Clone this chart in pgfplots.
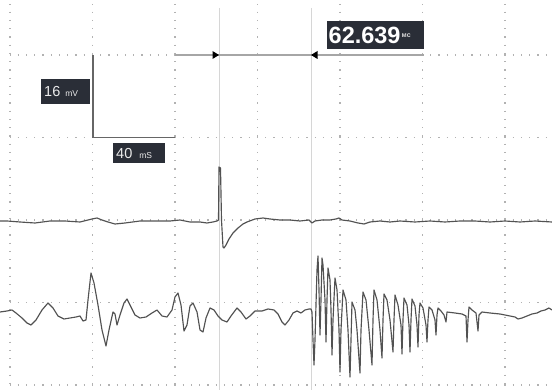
\documentclass[border=0pt]{standalone}
\usepackage{fontspec}
\setmainfont{Liberation Sans}
\usepackage{pgfplots}
\pgfplotsset{compat=1.18}
\definecolor{boxbg}{HTML}{2A2E37}
\definecolor{trace}{HTML}{525252}
\definecolor{gridc}{HTML}{B2B2B2}
\definecolor{cursor}{HTML}{D6D6D6}

\begin{document}
\begin{tikzpicture}
\begin{axis}[
  width=552pt, height=390pt, scale only axis,
  xmin=0, xmax=552, ymin=0, ymax=390,
  y dir=reverse,
  hide axis,
]
\path (rel axis cs:0,0) rectangle (rel axis cs:1,1);

% dotted graticule: 10 small dots per division
\pgfplotsinvokeforeach{10,92.5,175,257.5,340,422.5,505}{
  \draw[gridc, line width=1.15pt, dash pattern=on 1.15pt off 7.1pt, dash phase=0.575pt]
    (axis cs:#1,4) -- (axis cs:#1,390);
}
\pgfplotsinvokeforeach{55,137.5,220,302.5,385}{
  \draw[gridc, line width=1.15pt, dash pattern=on 1.15pt off 7.1pt, dash phase=0.575pt]
    (axis cs:10,#1) -- (axis cs:552,#1);
}

% time cursors
\draw[cursor, line width=0.6pt] (axis cs:219,8) -- (axis cs:219,390);
\draw[cursor, line width=0.6pt] (axis cs:311,8) -- (axis cs:311,390);

% interval readout
\draw[gray!70, line width=1.4pt] (axis cs:175,55) -- (axis cs:424,55);
\fill[black] (axis cs:219,55) -- (axis cs:212.5,51) -- (axis cs:212.5,59) -- cycle;
\fill[black] (axis cs:311,55) -- (axis cs:317.5,51) -- (axis cs:317.5,59) -- cycle;
\fill[boxbg] (axis cs:327,21.5) rectangle (axis cs:424,49.5);
\node[anchor=base west, inner sep=0pt, text=white] at (axis cs:328.5,44)
  {\bfseries\fontsize{23.5}{24}\selectfont 62.639\raisebox{6pt}{\fontsize{7}{7}\selectfont\,\textcolor{white!85!black}{мс}}};

% amplitude / time scale bar
\draw[gray!80!black, line width=1.2pt] (axis cs:93,55) -- (axis cs:93,137.5) -- (axis cs:175,137.5);
\fill[boxbg] (axis cs:41,79) rectangle (axis cs:90,104);
\node[anchor=base west, inner sep=0pt, text=white!92!black] at (axis cs:44,97)
  {\fontsize{14.5}{15}\selectfont 16\hspace{5pt}\fontsize{8.5}{9}\selectfont mV};
\fill[boxbg] (axis cs:113,143) rectangle (axis cs:165,163.5);
\node[anchor=base west, inner sep=0pt, text=white!92!black] at (axis cs:116,159)
  {\fontsize{14.5}{15}\selectfont 40\hspace{7pt}\fontsize{8.5}{9}\selectfont mS};

% channel 1: stimulus artefact and response
\addplot[trace, line width=1.15pt, line join=round] coordinates {
(0,221)(7,221)(20,222)(35,223)(50,221)(65,221)(80,222)(88,220)(92,219)(97,218)
(102,220)(108,222)(115,224)(125,223)(140,221)(155,221)(170,221)(180,220)(190,222)
(200,222)(207,223)(213,222)(217,221)(218.5,220)(219,167)(220.5,168)(221.5,220)
(223,247)(224,248)(226,245)(229,239)(233,233)(238,228)(243,224)(247,222)(255,219)
(263,218)(270,219)(280,220)(290,220)(300,221)(309,220)(312,223)(315,221)(322,220)
(330,220)(336,219)(339,218)(342,220)(350,221)(358,223)(364,224)(370,222)(380,221)
(390,222)(400,221)(415,222)(430,221)(445,222)(460,221)(475,221)(490,222)(505,221)
(520,222)(535,221)(552,222)
};

% channel 2: background activity and burst
\addplot[trace, line width=1.15pt, line join=round] coordinates {
(0,312)(7,311)(12,310)(16,313)(22,318)(27,323)(31,325)(36,320)(42,310)(48,303)
(53,308)(58,316)(64,319)(70,318)(76,317)(80,316)(83,321)(86,320)(88,300)(91,273)
(94,283)(98,305)(102,330)(106,346)(109,330)(113,312)(115,314)(117,325)(120,315)
(124,303)(127,299)(131,307)(135,315)(140,318)(146,317)(152,313)(157,310)(162,316)
(167,317)(172,310)(175,297)(178,293)(181,305)(184,331)(187,325)(190,306)(193,303)
(197,312)(200,330)(203,332)(206,318)(210,308)(214,310)(218,316)(222,320)(227,322)
(231,316)(237,308)(241,312)(246,319)(250,316)(255,311)(262,311)(268,309)(274,310)
(278,314)(282,322)(285,325)(289,320)(293,313)(297,311)(301,313)(305,310)(309,309)
(311,309)(312,312)(313,340)(314,365)(315,340)(317,270)(318,256)(319,290)(320,335)
(321,300)(322,258)(323,265)(325,300)(326,342)(327,300)(328,268)(330,280)(331,310)
(332,355)(333,320)(335,278)(337,290)(339,330)(340,372)(341,330)(343,290)(346,300)
(348,330)(350,377)(351,340)(352,302)(355,310)(357,330)(360,373)(361,330)(363,292)
(366,300)(369,330)(372,365)(373,320)(374,290)(377,300)(380,330)(382,358)(383,320)
(384,294)(387,300)(390,320)(393,352)(394,320)(395,295)(398,305)(401,325)(402,354)
(403,320)(404,298)(407,305)(409,325)(410,352)(411,320)(412,299)(415,306)(417,325)
(418,347)(419,315)(420,303)(423,308)(426,325)(427,342)(428,320)(429,307)(432,310)
(435,320)(436,335)(437,315)(438,308)(441,311)(444,315)(446,322)(447,312)(455,313)
(462,314)(466,316)(467,342)(468,320)(469,307)(472,310)(476,313)(478,331)(479,315)
(482,312)(490,313)(500,314)(510,316)(515,317)(518,319)(522,318)(527,316)(532,314)
(537,313)(541,311)(545,310)(549,308)(552,310)
};
\end{axis}
\end{tikzpicture}
\end{document}
